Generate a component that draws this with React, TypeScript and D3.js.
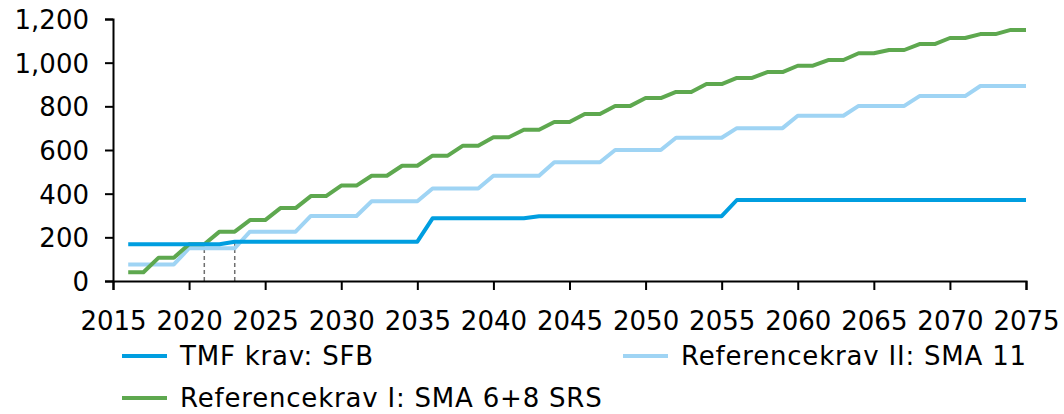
import { useEffect, useRef } from "react";
import * as d3 from "d3";

// years 2016..2075
const years = [
  2016, 2017, 2018, 2019, 2020, 2021, 2022, 2023, 2024, 2025,
  2026, 2027, 2028, 2029, 2030, 2031, 2032, 2033, 2034, 2035,
  2036, 2037, 2038, 2039, 2040, 2041, 2042, 2043, 2044, 2045,
  2046, 2047, 2048, 2049, 2050, 2051, 2052, 2053, 2054, 2055,
  2056, 2057, 2058, 2059, 2060, 2061, 2062, 2063, 2064, 2065,
  2066, 2067, 2068, 2069, 2070, 2071, 2072, 2073, 2074, 2075,
];

const tmfKrav = [
  168, 168, 168, 168, 168, 168, 168, 180, 180, 180,
  180, 180, 180, 180, 180, 180, 180, 180, 180, 180,
  287, 287, 287, 287, 287, 287, 287, 297, 297, 297,
  297, 297, 297, 297, 297, 297, 297, 297, 297, 297,
  371, 371, 371, 371, 371, 371, 371, 371, 371, 371,
  371, 371, 371, 371, 371, 371, 371, 371, 371, 371,
];

const refKravII = [
  76, 76, 76, 76, 150, 150, 150, 150, 226, 226,
  226, 226, 298, 298, 298, 298, 365, 365, 365, 365,
  424, 424, 424, 424, 482, 482, 482, 482, 544, 544,
  544, 544, 600, 600, 600, 600, 656, 656, 656, 656,
  700, 700, 700, 700, 757, 757, 757, 757, 802, 802,
  802, 802, 847, 847, 847, 847, 893, 893, 893, 893,
];

const refKravI = [
  40, 40, 107, 107, 168, 168, 226, 226, 279, 279,
  334, 334, 389, 389, 437, 437, 482, 482, 528, 528,
  574, 574, 620, 620, 658, 658, 693, 693, 728, 728,
  765, 765, 802, 802, 838, 838, 866, 866, 902, 902,
  930, 930, 957, 957, 986, 986, 1012, 1012, 1043, 1043,
  1058, 1058, 1085, 1085, 1113, 1113, 1131, 1131, 1150, 1150,
];

const xTicks = [2015, 2020, 2025, 2030, 2035, 2040, 2045, 2050, 2055, 2060, 2065, 2070, 2075];
const yTicks = [0, 200, 400, 600, 800, 1000, 1200];
const markerYears = [2021, 2023];

const series = [
  { name: "Referencekrav II: SMA 11", values: refKravII, color: "#9fd4f4" },
  { name: "Referencekrav I: SMA 6+8 SRS", values: refKravI, color: "#5ea84f" },
  { name: "TMF krav: SFB", values: tmfKrav, color: "#009ee0" },
];

const legendItems = [
  { name: "TMF krav: SFB", color: "#009ee0", x: 122, y: 356 },
  { name: "Referencekrav II: SMA 11", color: "#9fd4f4", x: 623, y: 356 },
  { name: "Referencekrav I: SMA 6+8 SRS", color: "#5ea84f", x: 122, y: 398 },
];

const FONT = "Verdana, 'DejaVu Sans', sans-serif";

export default function App() {
  const xAxisRef = useRef<SVGGElement>(null);
  const yAxisRef = useRef<SVGGElement>(null);

  const x = d3.scaleLinear().domain([2015, 2075]).range([113, 1026]);
  const y = d3.scaleLinear().domain([0, 1200]).range([281, 19]);

  const line = d3
    .line<number>()
    .x((_, i) => x(years[i]))
    .y((v) => y(v));

  useEffect(() => {
    const xAxis = d3.axisBottom(x).tickValues(xTicks).tickFormat(d3.format("d")).tickSizeOuter(0).tickSize(9).tickPadding(22);
    const yAxis = d3.axisLeft(y).tickValues(yTicks).tickFormat(d3.format(",")).tickSizeOuter(0).tickSize(8).tickPadding(16);

    const gx = d3.select(xAxisRef.current!);
    gx.call(xAxis);
    const gy = d3.select(yAxisRef.current!);
    gy.call(yAxis);

    [gx, gy].forEach((g) => {
      g.selectAll("path.domain").attr("stroke", "#000").attr("stroke-width", 2);
      g.selectAll(".tick line").attr("stroke", "#000").attr("stroke-width", 2);
      g.selectAll(".tick text")
        .attr("font-family", FONT)
        .attr("font-size", 26)
        .attr("fill", "#000");
    });
    gy.selectAll(".tick text").attr("dy", "0.36em");
  }, []);

  const tmfAt = (yr: number) => tmfKrav[years.indexOf(yr)];

  return (
    <svg
      width={1064}
      height={414}
      style={{ position: "absolute", left: 0, top: 0, background: "#fff" }}
    >
      {markerYears.map((yr) => (
        <line
          key={yr}
          x1={x(yr)}
          x2={x(yr)}
          y1={y(0)}
          y2={y(tmfAt(yr))}
          stroke="#6f6f6f"
          strokeWidth={1.5}
          strokeDasharray="4,3"
        />
      ))}
      {series.map((s) => (
        <path
          key={s.name}
          d={line(s.values) ?? ""}
          fill="none"
          stroke={s.color}
          strokeWidth={4}
          strokeLinejoin="round"
        />
      ))}
      <g ref={yAxisRef} transform={`translate(${x(2015)},0)`} />
      <g ref={xAxisRef} transform={`translate(0,${y(0)})`} />
      {legendItems.map((d) => (
        <g key={d.name} transform={`translate(${d.x},${d.y})`}>
          <line x1={0} x2={45} y1={0} y2={0} stroke={d.color} strokeWidth={4} />
          <text x={58} y={0} dy="0.36em" fontFamily={FONT} fontSize={26} letterSpacing={0.8} fill="#000">
            {d.name}
          </text>
        </g>
      ))}
    </svg>
  );
}
